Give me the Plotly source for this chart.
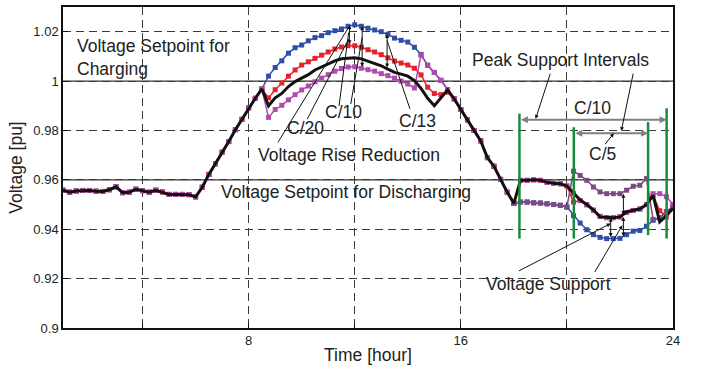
import plotly.graph_objects as go

# ---------------- data (15-minute samples, t = 1 ... 24 h) ----------------
t = [1 + 0.25 * i for i in range(93)]

# common trajectory, t = 1.00 ... 8.50
common_morning = [0.9558, 0.9550, 0.9555, 0.9557, 0.9557, 0.9554, 0.9553, 0.9560,
                  0.9572, 0.9548, 0.9550, 0.9562, 0.9556, 0.9550, 0.9558, 0.9551,
                  0.9541, 0.9541, 0.9541, 0.9540, 0.9531, 0.9570, 0.9622, 0.9665,
                  0.9712, 0.9755, 0.9803, 0.9845, 0.9892, 0.9930, 0.9968]
# common trajectory, t = 15.75 ... 18.00
common_afternoon = [0.9928, 0.9885, 0.9843, 0.9800, 0.9758, 0.9690, 0.9655, 0.9602,
                    0.9550, 0.9505]

# midday segment, t = 8.75 ... 15.50
blue_peak = [1.0020, 1.0055, 1.0082, 1.0113, 1.0135, 1.0146, 1.0163, 1.0176, 1.0184,
             1.0196, 1.0204, 1.0211, 1.0222, 1.0228, 1.0222, 1.0214, 1.0207, 1.0200,
             1.0190, 1.0174, 1.0165, 1.0158, 1.0137, 1.0108, 1.0064, 1.0035, 1.0003, 0.9966]
red_peak = [0.9932, 0.9965, 0.9992, 1.0020, 1.0045, 1.0065, 1.0078, 1.0092, 1.0105,
            1.0118, 1.0130, 1.0138, 1.0143, 1.0143, 1.0137, 1.0127, 1.0118, 1.0107,
            1.0094, 1.0081, 1.0073, 1.0065, 1.0052, 1.0025, 0.9975, 0.9950, 0.9945, 0.9955]
magenta_peak = [0.9853, 0.9885, 0.9902, 0.9924, 0.9945, 0.9964, 0.9980, 0.9997, 1.0012,
                1.0026, 1.0040, 1.0051, 1.0057, 1.0058, 1.0052, 1.0046, 1.0040, 1.0030,
                1.0022, 1.0012, 1.0000, 0.9988, 0.9972, 1.0105, 1.0064, 1.0035, 1.0003, 0.9966]
black_peak = [0.9900, 0.9932, 0.9950, 0.9978, 0.9998, 1.0012, 1.0026, 1.0045, 1.0058,
              1.0072, 1.0082, 1.0090, 1.0093, 1.0094, 1.0090, 1.0080, 1.0070, 1.0062,
              1.0048, 1.0035, 1.0028, 1.0020, 1.0002, 0.9970, 0.9930, 0.9900, 0.9932, 0.9964]

# evening segment, t = 18.25 ... 24.00
blue_eve = [0.9510, 0.9510, 0.9507, 0.9506, 0.9503, 0.9500, 0.9497, 0.9490, 0.9455,
            0.9425, 0.9398, 0.9378, 0.9367, 0.9362, 0.9362, 0.9363, 0.9378, 0.9392,
            0.9395, 0.9412, 0.9436, 0.9446, 0.9472, 0.9490]
red_eve = [0.9598, 0.9598, 0.9600, 0.9598, 0.9590, 0.9586, 0.9584, 0.9575, 0.9510,
           0.9516, 0.9499, 0.9477, 0.9452, 0.9447, 0.9447, 0.9450, 0.9468, 0.9476,
           0.9482, 0.9500, 0.9537, 0.9475, 0.9450, 0.9490]
magenta_eve = [0.9598, 0.9598, 0.9600, 0.9598, 0.9590, 0.9586, 0.9584, 0.9575, 0.9545,
               0.9516, 0.9499, 0.9477, 0.9452, 0.9447, 0.9447, 0.9450, 0.9468, 0.9476,
               0.9482, 0.9500, 0.9544, 0.9544, 0.9532, 0.9500]
purple_eve = [0.9510, 0.9510, 0.9507, 0.9506, 0.9503, 0.9500, 0.9497, 0.9490, 0.9635,
              0.9618, 0.9598, 0.9571, 0.9551, 0.9544, 0.9544, 0.9544, 0.9558, 0.9574,
              0.9578, 0.9605, 0.9440, 0.9446, 0.9472, 0.9490]
black_eve = [0.9598, 0.9598, 0.9600, 0.9598, 0.9590, 0.9586, 0.9584, 0.9575, 0.9545,
             0.9518, 0.9500, 0.9478, 0.9450, 0.9447, 0.9447, 0.9450, 0.9470, 0.9477,
             0.9482, 0.9500, 0.9537, 0.9430, 0.9455, 0.9485]

# peak-support intervals (h)
interval_c10 = [18.21, 23.76]
interval_c5 = [20.26, 23.06]

x_ticks = [4, 8, 12, 16, 20, 24]
x_labels = ["", "8", "", "16", "", "24"]
y_ticks = [0.90, 0.92, 0.94, 0.96, 0.98, 1.00, 1.02]
y_labels = ["0.9", "0.92", "0.94", "0.96", "0.98", "1", "1.02"]
setpoints = [1.00, 0.96]


def full(peak, eve):
    return common_morning + peak + common_afternoon + eve


v_blue = full(blue_peak, blue_eve)
v_red = full(red_peak, red_eve)
v_magenta = full(magenta_peak, magenta_eve)
v_black = full(black_peak, black_eve)
n_pre = len(common_morning) + len(blue_peak) + len(common_afternoon) - 1
v_purple = [None] * n_pre + [common_afternoon[-1]] + purple_eve

BLUE = "#2f4fa6"
RED = "#e8222a"
MAGENTA = "#b04aae"
PURPLE = "#7b4a84"
TXT = "#222222"
FONT = "Liberation Sans, Arial, sans-serif"

fig = go.Figure()
for v, c in [(v_blue, BLUE), (v_red, RED), (v_magenta, MAGENTA), (v_purple, PURPLE)]:
    fig.add_trace(go.Scatter(x=t, y=v, mode="lines+markers",
                             line=dict(color=c, width=1.5),
                             marker=dict(symbol="square", size=5, color=c),
                             connectgaps=False, hoverinfo="skip"))
fig.add_trace(go.Scatter(x=t, y=v_black, mode="lines",
                         line=dict(color="#111111", width=3), hoverinfo="skip"))

shapes = []
for sp in setpoints:
    shapes.append(dict(type="line", xref="paper", x0=0, x1=1, yref="y", y0=sp, y1=sp,
                       line=dict(color="#333333", width=1.3), layer="between"))
green = [(interval_c10[0], 0.9362, 0.9868), (interval_c5[0], 0.9362, 0.9813),
         (interval_c5[1], 0.9376, 0.9834), (interval_c10[1], 0.9362, 0.9890)]
for gx, g0, g1 in green:
    shapes.append(dict(type="line", xref="x", yref="y", x0=gx, x1=gx, y0=g0, y1=g1,
                       line=dict(color="#1b8a3c", width=2.5)))


def arrow(x0, y0, x1, y1, both=False, color="#111111", width=1, head=2, size=1.0):
    return dict(x=x1, y=y1, ax=x0, ay=y0, xref="x", yref="y", axref="x", ayref="y",
                text="", showarrow=True, arrowhead=head, arrowsize=size,
                arrowwidth=width, arrowcolor=color,
                arrowside="end+start" if both else "end",
                startarrowhead=head, startarrowsize=size, standoff=0, startstandoff=0)


def label(x, y, s, anchor="center", align="center"):
    return dict(x=x, y=y, xref="x", yref="y", text=s, showarrow=False,
                xanchor=anchor, yanchor="middle", align=align,
                font=dict(family=FONT, size=17.5, color=TXT))


ann = [
    # voltage rise reduction arrows
    arrow(11.80, 1.0143, 11.80, 1.0226, both=True, size=0.8),
    arrow(12.28, 1.0052, 12.28, 1.0222, both=True, size=0.8),
    arrow(13.22, 1.0049, 13.22, 1.0191, both=True, size=0.8),
    arrow(9.07, 0.9746, 11.76, 1.0216, head=0),
    arrow(10.18, 0.9840, 11.77, 1.0170, head=0),
    arrow(11.40, 0.9893, 11.77, 1.0197, head=0),
    arrow(11.84, 0.9901, 12.28, 1.0177, head=0),
    arrow(14.10, 0.9881, 13.22, 1.0164, head=0),
    # peak support intervals
    arrow(interval_c10[0], 0.9843, interval_c10[1], 0.9843, both=True,
          color="#808080", width=2, size=0.7),
    arrow(interval_c5[0], 0.9789, interval_c5[1], 0.9789, both=True,
          color="#808080", width=2, size=0.7),
    arrow(19.39, 1.0036, 18.82, 0.9847, size=0.8),
    arrow(22.51, 1.0036, 22.05, 0.9798, size=0.8),
    arrow(21.40, 0.9739, 21.77, 0.9789, size=0.8),
    # voltage support
    arrow(21.65, 0.9362, 21.65, 0.9447, both=True, size=0.8),
    arrow(22.13, 0.9452, 22.13, 0.9544, both=True, size=0.8),
    arrow(22.13, 0.9364, 22.13, 0.9450, both=True, size=0.8),
    arrow(18.13, 0.9228, 21.65, 0.9423, size=0.8),
    arrow(21.02, 0.9221, 22.09, 0.9416, size=0.8),
    # texts
    label(1.46, 1.0095, "Voltage Setpoint for<br>Charging", anchor="left", align="left"),
    label(10.14, 0.9808, "C/20"),
    label(11.56, 0.9874, "C/10"),
    label(14.35, 0.9840, "C/13"),
    label(11.77, 0.9699, "Voltage Rise Reduction"),
    label(6.88, 0.9551, "Voltage Setpoint for Discharging", anchor="left"),
    label(19.76, 1.0086, "Peak Support Intervals"),
    label(20.96, 0.9889, "C/10"),
    label(21.34, 0.9706, "C/5"),
    label(19.32, 0.9178, "Voltage Support"),
]

axis_common = dict(showline=True, linecolor="#111111", linewidth=1.5, mirror=True,
                   ticks="inside", ticklen=5, tickcolor="#111111",
                   showgrid=True, gridcolor="#3a3a3a", gridwidth=1, griddash="8px,5px",
                   zeroline=False, automargin=False,
                   tickfont=dict(family=FONT, size=13, color=TXT))

fig.update_layout(
    width=702, height=365,
    margin=dict(l=63, r=29, t=7, b=37),
    paper_bgcolor="white", plot_bgcolor="white",
    showlegend=False,
    font=dict(family=FONT, color=TXT),
    xaxis=dict(range=[1, 24], tickvals=x_ticks, ticktext=x_labels,
               title=dict(text="Time [hour]", font=dict(family=FONT, size=17.5, color=TXT),
                          standoff=1),
               **axis_common),
    yaxis=dict(range=[0.9, 1.03], tickvals=y_ticks, ticktext=y_labels,
               title=dict(text="Voltage [pu]", font=dict(family=FONT, size=17.5, color=TXT),
                          standoff=6),
               **axis_common),
    shapes=shapes,
    annotations=ann,
)

fig.write_html("out.html")
